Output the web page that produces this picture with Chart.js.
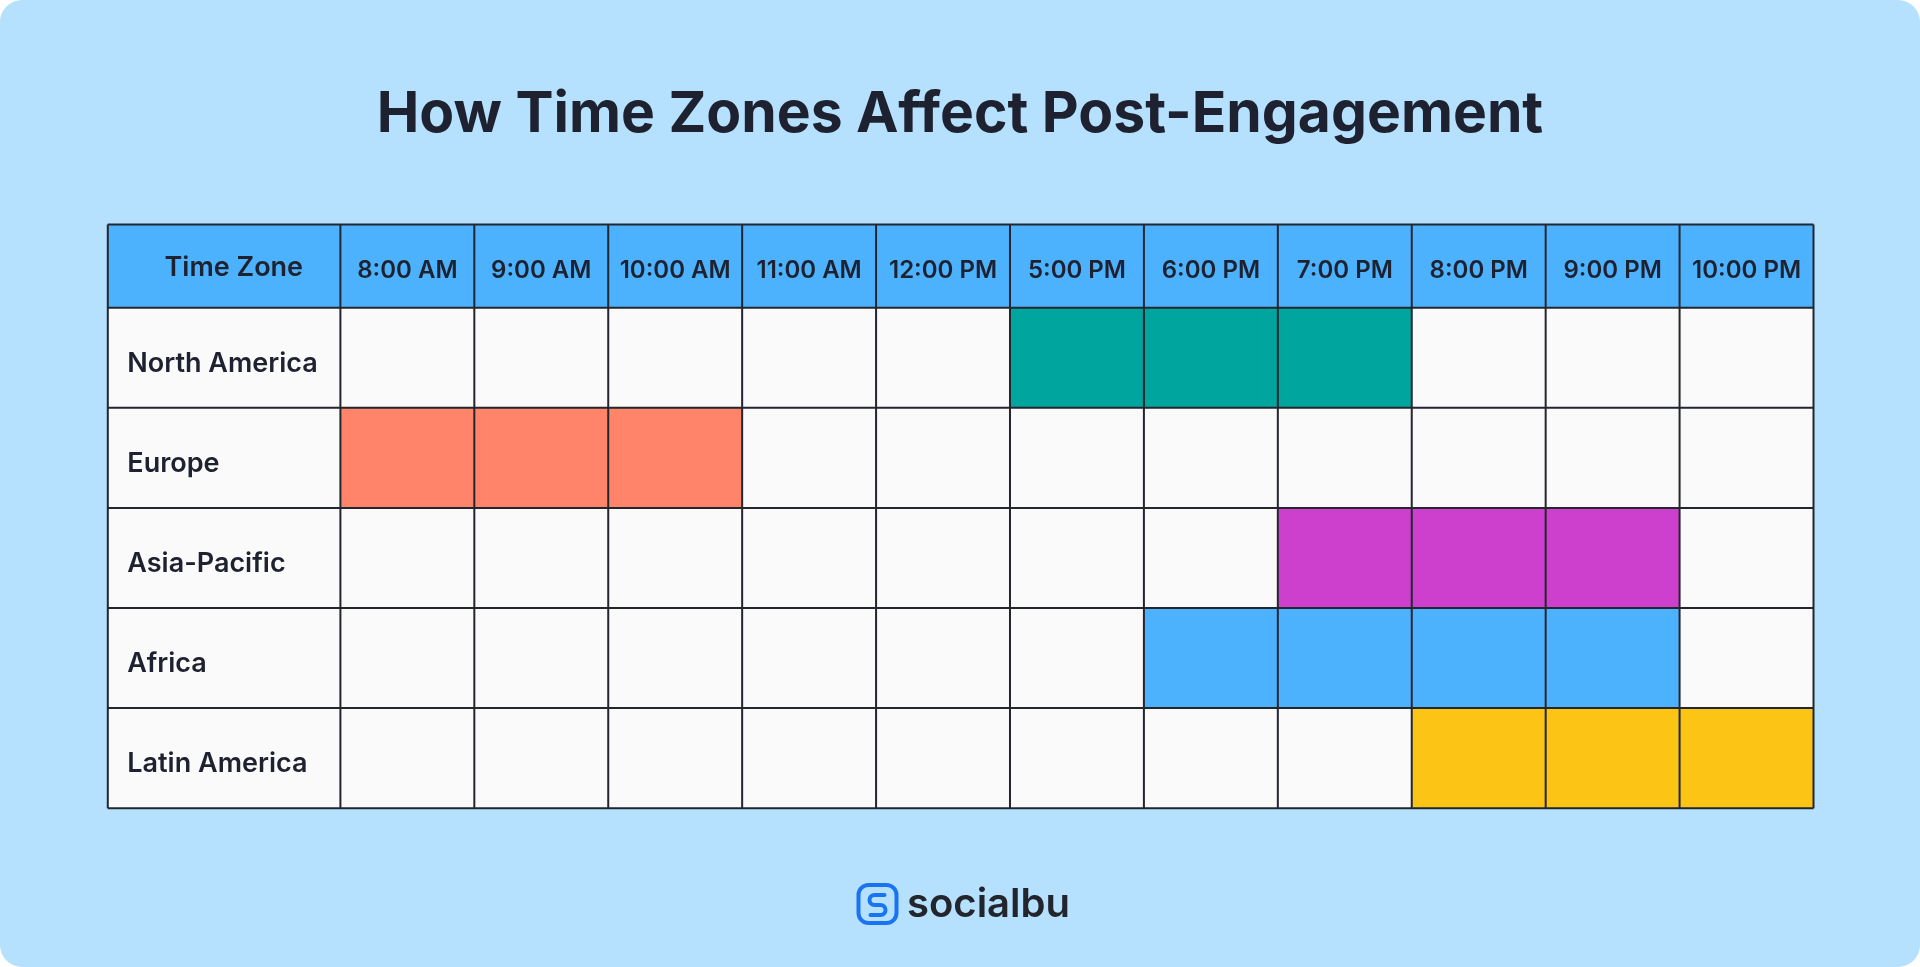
<!DOCTYPE html>
<html>
<head>
<meta charset="utf-8">
<script src="https://cdn.jsdelivr.net/npm/chart.js@4.4.0/dist/chart.umd.min.js"></script>
<style>
  html, body { margin:0; padding:0; background:#ffffff; width:1920px; height:967px; overflow:hidden; }
  #wrap { position:absolute; left:0; top:0; width:1920px; height:967px; }
</style>
</head>
<body>
<div id="wrap"><canvas id="c" width="1920" height="967"></canvas></div>
<script>
// ---------- data ----------
const titleText = 'How Time Zones Affect Post-Engagement';
const cornerLabel = 'Time Zone';
const timeSlots = ['8:00 AM','9:00 AM','10:00 AM','11:00 AM','12:00 PM','5:00 PM','6:00 PM','7:00 PM','8:00 PM','9:00 PM','10:00 PM'];
const regions = ['North America','Europe','Asia-Pacific','Africa','Latin America'];
const regionColors = ['#00a69d','#ff846a','#cd3fcd','#4db2fe','#fcc516'];
// 1 = peak engagement slot for that region
const northAmericaPeak = [0,0,0,0,0,1,1,1,0,0,0];
const europePeak       = [1,1,1,0,0,0,0,0,0,0,0];
const asiaPacificPeak  = [0,0,0,0,0,0,0,1,1,1,0];
const africaPeak       = [0,0,0,0,0,0,1,1,1,1,0];
const latinAmericaPeak = [0,0,0,0,0,0,0,0,1,1,1];
const brandName = 'socialbu';

// ---------- styles ----------
const emptyCell = '#fafafa';
const headerBlue = '#4db2fe';
const cardBlue = '#b5e0fe';
const ink = '#1e2130';
const lineCol = '#23262e';
const peakRows = [northAmericaPeak, europePeak, asiaPacificPeak, africaPeak, latinAmericaPeak];

const datasets = timeSlots.map((slot, j) => ({
  label: slot,
  data: regions.map(() => 1),
  backgroundColor: regions.map((r, i) => peakRows[i][j] ? regionColors[i] : emptyCell),
  borderWidth: 0,
  barPercentage: 1,
  categoryPercentage: 1,
  xAxisID: 'x',
  yAxisID: 'y'
}));

const tablePlugin = {
  id: 'tableChrome',
  beforeDraw(chart) {
    const ctx = chart.ctx;
    const ca = chart.chartArea;
    const xs = chart.scales.xTop, ys = chart.scales.y;
    ctx.save();
    ctx.fillStyle = cardBlue;
    ctx.beginPath();
    ctx.roundRect(0, 0, chart.width, chart.height, 22);
    ctx.fill();
    const tableLeft = ys.left - 19.5;
    ctx.fillStyle = headerBlue;
    ctx.fillRect(tableLeft, xs.top, ca.right - tableLeft, ca.top - xs.top);
    ctx.fillStyle = emptyCell;
    ctx.fillRect(tableLeft, ca.top, ca.left - tableLeft, ca.bottom - ca.top);
    ctx.fillStyle = ink;
    ctx.font = '600 27px Inter';
    ctx.textAlign = 'center';
    ctx.textBaseline = 'middle';
    ctx.fillText(cornerLabel, tableLeft + 126, (xs.top + ca.top) / 2 + 2);
    ctx.restore();
  },
  afterDatasetsDraw(chart) {
    const ctx = chart.ctx;
    const ca = chart.chartArea;
    const xs = chart.scales.xTop, ys = chart.scales.y, xv = chart.scales.x;
    const tableLeft = ys.left - 19.5;
    ctx.save();
    ctx.strokeStyle = lineCol;
    ctx.lineWidth = 2;
    ctx.beginPath();
    const hs = [xs.top, ca.top, ca.bottom];
    for (let i = 1; i < regions.length; i++) hs.push((ys.getPixelForTick(i - 1) + ys.getPixelForTick(i)) / 2);
    hs.forEach(y => { ctx.moveTo(tableLeft, y); ctx.lineTo(ca.right, y); });
    const vs = [tableLeft, ca.left, ca.right];
    for (let k = 1; k < timeSlots.length; k++) vs.push(xv.getPixelForValue(k));
    vs.forEach(x => { ctx.moveTo(x, xs.top); ctx.lineTo(x, ca.bottom); });
    ctx.stroke();
    ctx.restore();
  },
  afterDraw(chart) {
    const ctx = chart.ctx;
    const cx = chart.width / 2;
    const ix = cx - 101.5, iy = 885, s = 38;
    ctx.save();
    ctx.strokeStyle = '#1a74f2';
    ctx.lineWidth = 4;
    ctx.lineCap = 'round';
    ctx.beginPath();
    ctx.roundRect(ix, iy, s, s, 10);
    ctx.stroke();
    ctx.beginPath();
    ctx.moveTo(ix + 26, iy + 10);
    ctx.lineTo(ix + 16, iy + 10);
    ctx.arc(ix + 16, iy + 15, 5, -Math.PI / 2, Math.PI / 2, true);
    ctx.lineTo(ix + 22, iy + 20);
    ctx.arc(ix + 22, iy + 25, 5, -Math.PI / 2, Math.PI / 2, false);
    ctx.lineTo(ix + 12, iy + 30);
    ctx.stroke();
    ctx.fillStyle = '#23252d';
    ctx.font = '600 40px Inter';
    ctx.textAlign = 'left';
    ctx.textBaseline = 'alphabetic';
    ctx.fillText(brandName, cx - 53, 917);
    ctx.restore();
  }
};

new Chart(document.getElementById('c'), {
  type: 'bar',
  data: { labels: regions, datasets },
  plugins: [tablePlugin],
  options: {
    indexAxis: 'y',
    responsive: false,
    animation: false,
    devicePixelRatio: 1,
    layout: { padding: { left: 106.5, right: 106.5, top: 0, bottom: 158.8 } },
    plugins: {
      legend: { display: false },
      tooltip: { enabled: false },
      title: {
        display: true,
        text: titleText,
        color: ink,
        font: { family: 'Inter', size: 57, weight: '700' },
        padding: { top: 81, bottom: 75 }
      }
    },
    scales: {
      x: { type: 'linear', stacked: true, min: 0, max: timeSlots.length, display: false },
      xTop: {
        type: 'category',
        labels: timeSlots,
        position: 'top',
        offset: true,
        grid: { display: false },
        border: { display: false },
        ticks: { color: ink, font: { family: 'Inter', size: 24, weight: '600' }, padding: 15, maxRotation: 0, autoSkip: false },
        afterFit(s) { s.height = 83.3; }
      },
      y: {
        type: 'category',
        stacked: true,
        weight: 0,
        grid: { display: false },
        border: { display: false },
        ticks: { color: ink, crossAlign: 'far', labelOffset: 6, font: { family: 'Inter', size: 27, weight: '600' } },
        afterFit(s) { s.width = 213.1; }
      },
      yInset: {
        type: 'category',
        position: 'left',
        weight: 5,
        labels: [''],
        grid: { display: false },
        border: { display: false },
        ticks: { display: false },
        afterFit(s) { s.width = 20.8; }
      }
    }
  }
});
</script>
</body>
</html>
